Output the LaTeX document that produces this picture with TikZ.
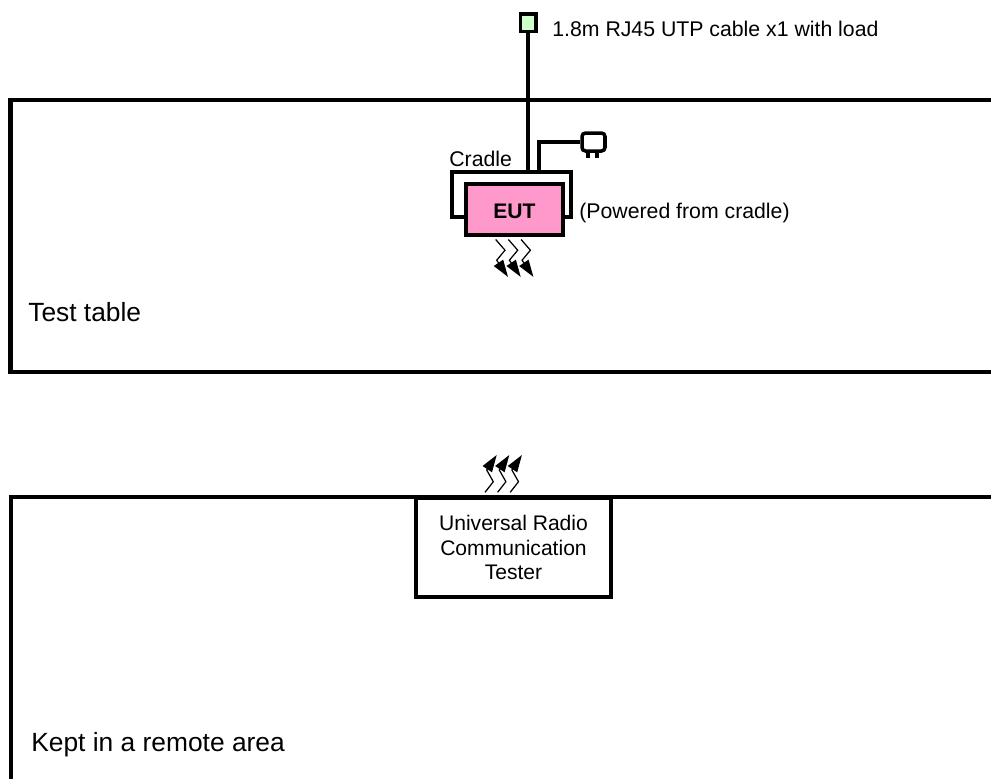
\documentclass[tikz,border=0pt]{standalone}
\usepackage{fontspec}
\setmainfont{Liberation Sans}
\usetikzlibrary{arrows.meta}
\tikzset{
    box/.style={draw,line width=2.3pt,rectangle,inner sep=0pt,align=center,font=\fontsize{12}{14}\selectfont},
    label/.style={inner sep=0pt,anchor=base west,font=\fontsize{12.1}{14}\selectfont},
    biglabel/.style={inner sep=0pt,anchor=base west,font=\fontsize{15}{17}\selectfont},
    cable/.style={line width=2.3pt},
    wave/.style={line width=0.7pt,-{Triangle[length=0.34cm,width=0.22cm]}}
}
\begin{document}
\begin{tikzpicture}[x=0.02cm,y=-0.02cm]
    \useasboundingbox (0,0) rectangle (991,779);

    % tables
    \draw[cable] (991,100) -- (10.5,100) -- (10.5,372) -- (991,372);
    \draw[cable] (991,497) -- (11,497) -- (11,779);

    % cradle and EUT
    \node[box,minimum width=2.38cm,minimum height=0.9cm] (cradle) at (511.5,194.5) {};
    \node[box,fill={rgb,255:red,255;green,153;blue,204},minimum width=1.94cm,minimum height=1.02cm] (eut) at (514.5,209.5) {};
    \node[inner sep=0pt,anchor=base,font=\fontsize{12}{14}\selectfont\bfseries] (euttext) at (514.5,218.5) {EUT};

    % tester
    \node[box,fill=white,minimum width=3.9cm,minimum height=1.98cm] (tester) at (513.5,547.5) {Universal Radio\\Communication\\Tester};

    % RJ45 end of the cable
    \node[draw,line width=2pt,fill={rgb,255:red,204;green,255;blue,204},minimum width=0.31cm,minimum height=0.35cm,inner sep=0pt] (load) at (528.3,22.5) {};
    \draw[cable] (load.south) -- (load.south |- cradle.north);

    % mains plug
    \node[draw,line width=2pt,rounded corners=2pt,minimum width=0.46cm,minimum height=0.36cm,inner sep=0pt] (plug) at (593.5,142) {};
    \draw[cable] (plug.west) -- (539,142) -- (539,172);
    \coordinate (prongl) at (588,152);
    \coordinate (prongr) at (597,152);
    \draw[cable] (prongl) -- ++(0,6);
    \draw[cable] (prongr) -- ++(0,6);

    % radio waves
    \foreach \i in {0,1,2}{
        \coordinate (eutwave\i) at (495.7+12.7*\i,239.5);
        \coordinate (testerwave\i) at (485+12.6*\i,492.3);
        \draw[wave] (eutwave\i) -- ++(9.3,10.7) -- ++(-8.3,10) -- ++(11.3,16.7);
        \draw[wave] (testerwave\i) -- ++(8.3,-10.6) -- ++(-6.6,-11.7) -- ++(10,-15);
    }

    \node[label] (cablelabel) at (552,36) {1.8m RJ45 UTP cable x1 with load};
    \node[label] (cradlelabel) at (449,166) {Cradle};
    \node[label] (powerlabel) at (579,218) {(Powered from cradle)};
    \node[biglabel] (tablelabel) at (28,321) {Test table};
    \node[biglabel] (remotelabel) at (31,751.7) {Kept in a remote area};
\end{tikzpicture}
\end{document}
